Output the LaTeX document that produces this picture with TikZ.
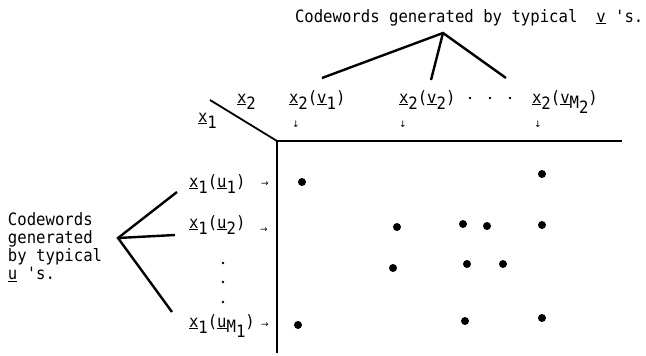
\documentclass[tikz,border=0pt]{standalone}
\usepackage{fontspec}
\setmonofont[FakeStretch=0.92]{DejaVu Sans Mono}
\newfontfamily\symfont{DejaVu Sans}
\newcommand\ul[1]{\underline{#1}}
\newcommand\lo[1]{\raisebox{-6.5pt}{#1}}
\newcommand\lom[1]{\raisebox{-5pt}{#1}}
\begin{document}
\begin{tikzpicture}[x=1pt,y=-1pt,
  every node/.style={inner sep=0pt, outer sep=0pt},
  lbl/.style={font=\ttfamily\fontsize{17}{18}\selectfont, anchor=base west},
  tick/.style={font=\symfont\fontsize{9}{9}\selectfont},
  branch/.style={line width=2.4pt},
  axis/.style={line width=2.2pt},
  diag/.style={line width=1.8pt}]
\useasboundingbox (0,0) rectangle (646,356);

% top caption and its branches
\node[lbl] (title) at (295,22) {Codewords generated by typical~~\ul{v}~'s.};
\coordinate (tapex) at (443,33);
\coordinate (tl) at (322,78);
\coordinate (tm) at (431,80);
\coordinate (tr) at (506,78);
\draw[branch] (tl) -- (tapex) -- (tr);
\draw[branch] (tapex) -- (tm);

% header labels
\node[lbl] (hx2) at (237,103) {\ul{x}\lo{2}};
\node[lbl] (hx1) at (198,122) {\ul{x}\lo{1}};
\node[lbl] (c1) at (289,103) {\ul{x}\lo{2}(\ul{v}\lo{1})};
\node[lbl] (c2) at (399,103) {\ul{x}\lo{2}(\ul{v}\lo{2})};
\node[lbl] (c3) at (532,103) {\ul{x}\lo{2}(\ul{v}\lom{M\lom{2}})};
\foreach \x/\n in {470/d1,490/d2,510/d3}
  \fill (\x,98) circle (1.3);
\node[tick] (a1) at (296,124) {↓};
\node[tick] (a2) at (403,124) {↓};
\node[tick] (a3) at (538,124) {↓};

% axes
\coordinate (dg) at (210,100);
\coordinate (o) at (277,141);
\coordinate (xe) at (622,141);
\coordinate (ye) at (277,353);
\draw[diag] (dg) -- (o);
\draw[axis] (o) -- (xe);
\draw[axis] (o) -- (ye);

% row labels
\node[lbl] (r1) at (189,187) {\ul{x}\lo{1}(\ul{u}\lo{1})};
\node[lbl] (r2) at (189,228) {\ul{x}\lo{1}(\ul{u}\lo{2})};
\node[lbl] (r3) at (189,327) {\ul{x}\lo{1}(\ul{u}\lom{M\lom{1}})};
\node[tick] (b1) at (265,184) {→};
\node[tick] (b2) at (264,230) {→};
\node[tick] (b3) at (265,325) {→};
\foreach \y in {263,282,302}
  \fill (223,\y) circle (1.3);

% left caption and its branches
\node[lbl, anchor=north west, align=left] (left) at (8,213)
  {Codewords\\generated\\by typical\\\ul{u}~'s.};
\coordinate (lapex) at (118,238);
\coordinate (l1) at (177,192);
\coordinate (l2) at (175,235);
\coordinate (l3) at (172,312);
\draw[branch] (l1) -- (lapex) -- (l3);
\draw[branch] (lapex) -- (l2);

% matrix points
\foreach \p in {(302,182),(542,174),(397,227),(463,224),(487,226),(542,225),
                (393,268),(467,264),(503,264),(298,325),(465,321),(542,318)}
  \fill \p circle (4);
\end{tikzpicture}
\end{document}
